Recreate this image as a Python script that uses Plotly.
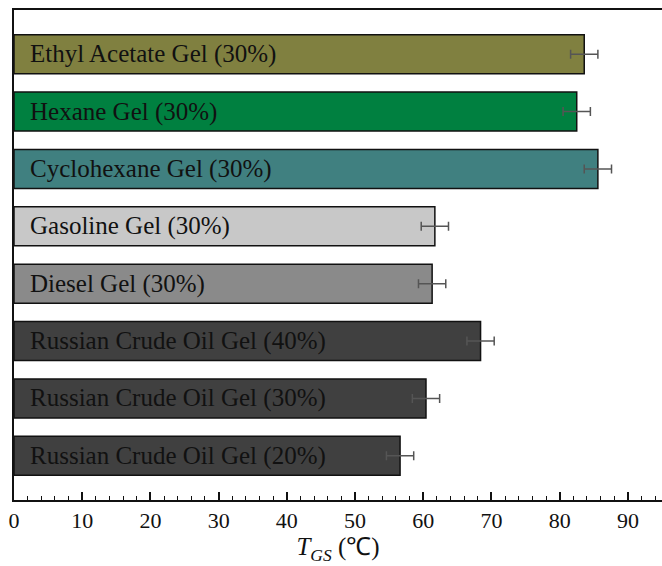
import plotly.graph_objects as go

# Gel samples (top to bottom) and their gel–sol transition temperatures
samples = [
    "Ethyl Acetate Gel (30%)",
    "Hexane Gel (30%)",
    "Cyclohexane Gel (30%)",
    "Gasoline Gel (30%)",
    "Diesel Gel (30%)",
    "Russian Crude Oil Gel (40%)",
    "Russian Crude Oil Gel (30%)",
    "Russian Crude Oil Gel (20%)",
]
t_gs = [83.6, 82.5, 85.6, 61.7, 61.3, 68.4, 60.4, 56.6]
t_err = [2.0, 2.0, 2.0, 2.0, 2.0, 2.0, 2.0, 2.0]
bar_colors = ["#808040", "#008040", "#408080", "#c8c8c8",
              "#8a8a8a", "#404040", "#404040", "#404040"]

serif = "Liberation Serif, Times New Roman, serif"

fig = go.Figure()
fig.add_trace(go.Bar(
    y=samples,
    x=t_gs,
    orientation="h",
    marker=dict(color=bar_colors, line=dict(color="#111111", width=1.5)),
    error_x=dict(type="data", array=t_err, symmetric=True,
                 color="#555555", thickness=1.5, width=4.5),
    showlegend=False,
    hoverinfo="x+y",
))

# Sample names written inside the bars
for s in samples:
    fig.add_annotation(
        x=2.0, y=s, text=s, showarrow=False, xanchor="left", yanchor="middle",
        font=dict(family=serif, size=25, color="#111111"),
    )

fig.update_layout(
    width=662, height=566,
    margin=dict(l=14, r=0, t=10, b=66),
    paper_bgcolor="white",
    plot_bgcolor="white",
    bargap=0.32,
    xaxis=dict(
        range=[0, 95],
        tickmode="array",
        tickvals=[0, 10, 20, 30, 40, 50, 60, 70, 80, 90],
        ticks="inside", ticklen=8, tickwidth=1.5, tickcolor="#111111",
        minor=dict(dtick=2, ticks="inside", ticklen=4, tickwidth=1.2,
                   tickcolor="#111111", showgrid=False),
        showline=True, linecolor="#111111", linewidth=2, mirror=True,
        showgrid=False, zeroline=False,
        tickfont=dict(family=serif, size=22, color="#111111"),
        title=dict(text="<i>T</i><sub><i>GS</i></sub> (℃)",
                   font=dict(family=serif, size=25, color="#111111"),
                   standoff=2),
    ),
    yaxis=dict(
        type="category",
        range=[7.77, -0.77],
        showticklabels=False, ticks="",
        showline=True, linecolor="#111111", linewidth=2,
        showgrid=False, zeroline=False,
    ),
)

fig.write_html("out.html")
